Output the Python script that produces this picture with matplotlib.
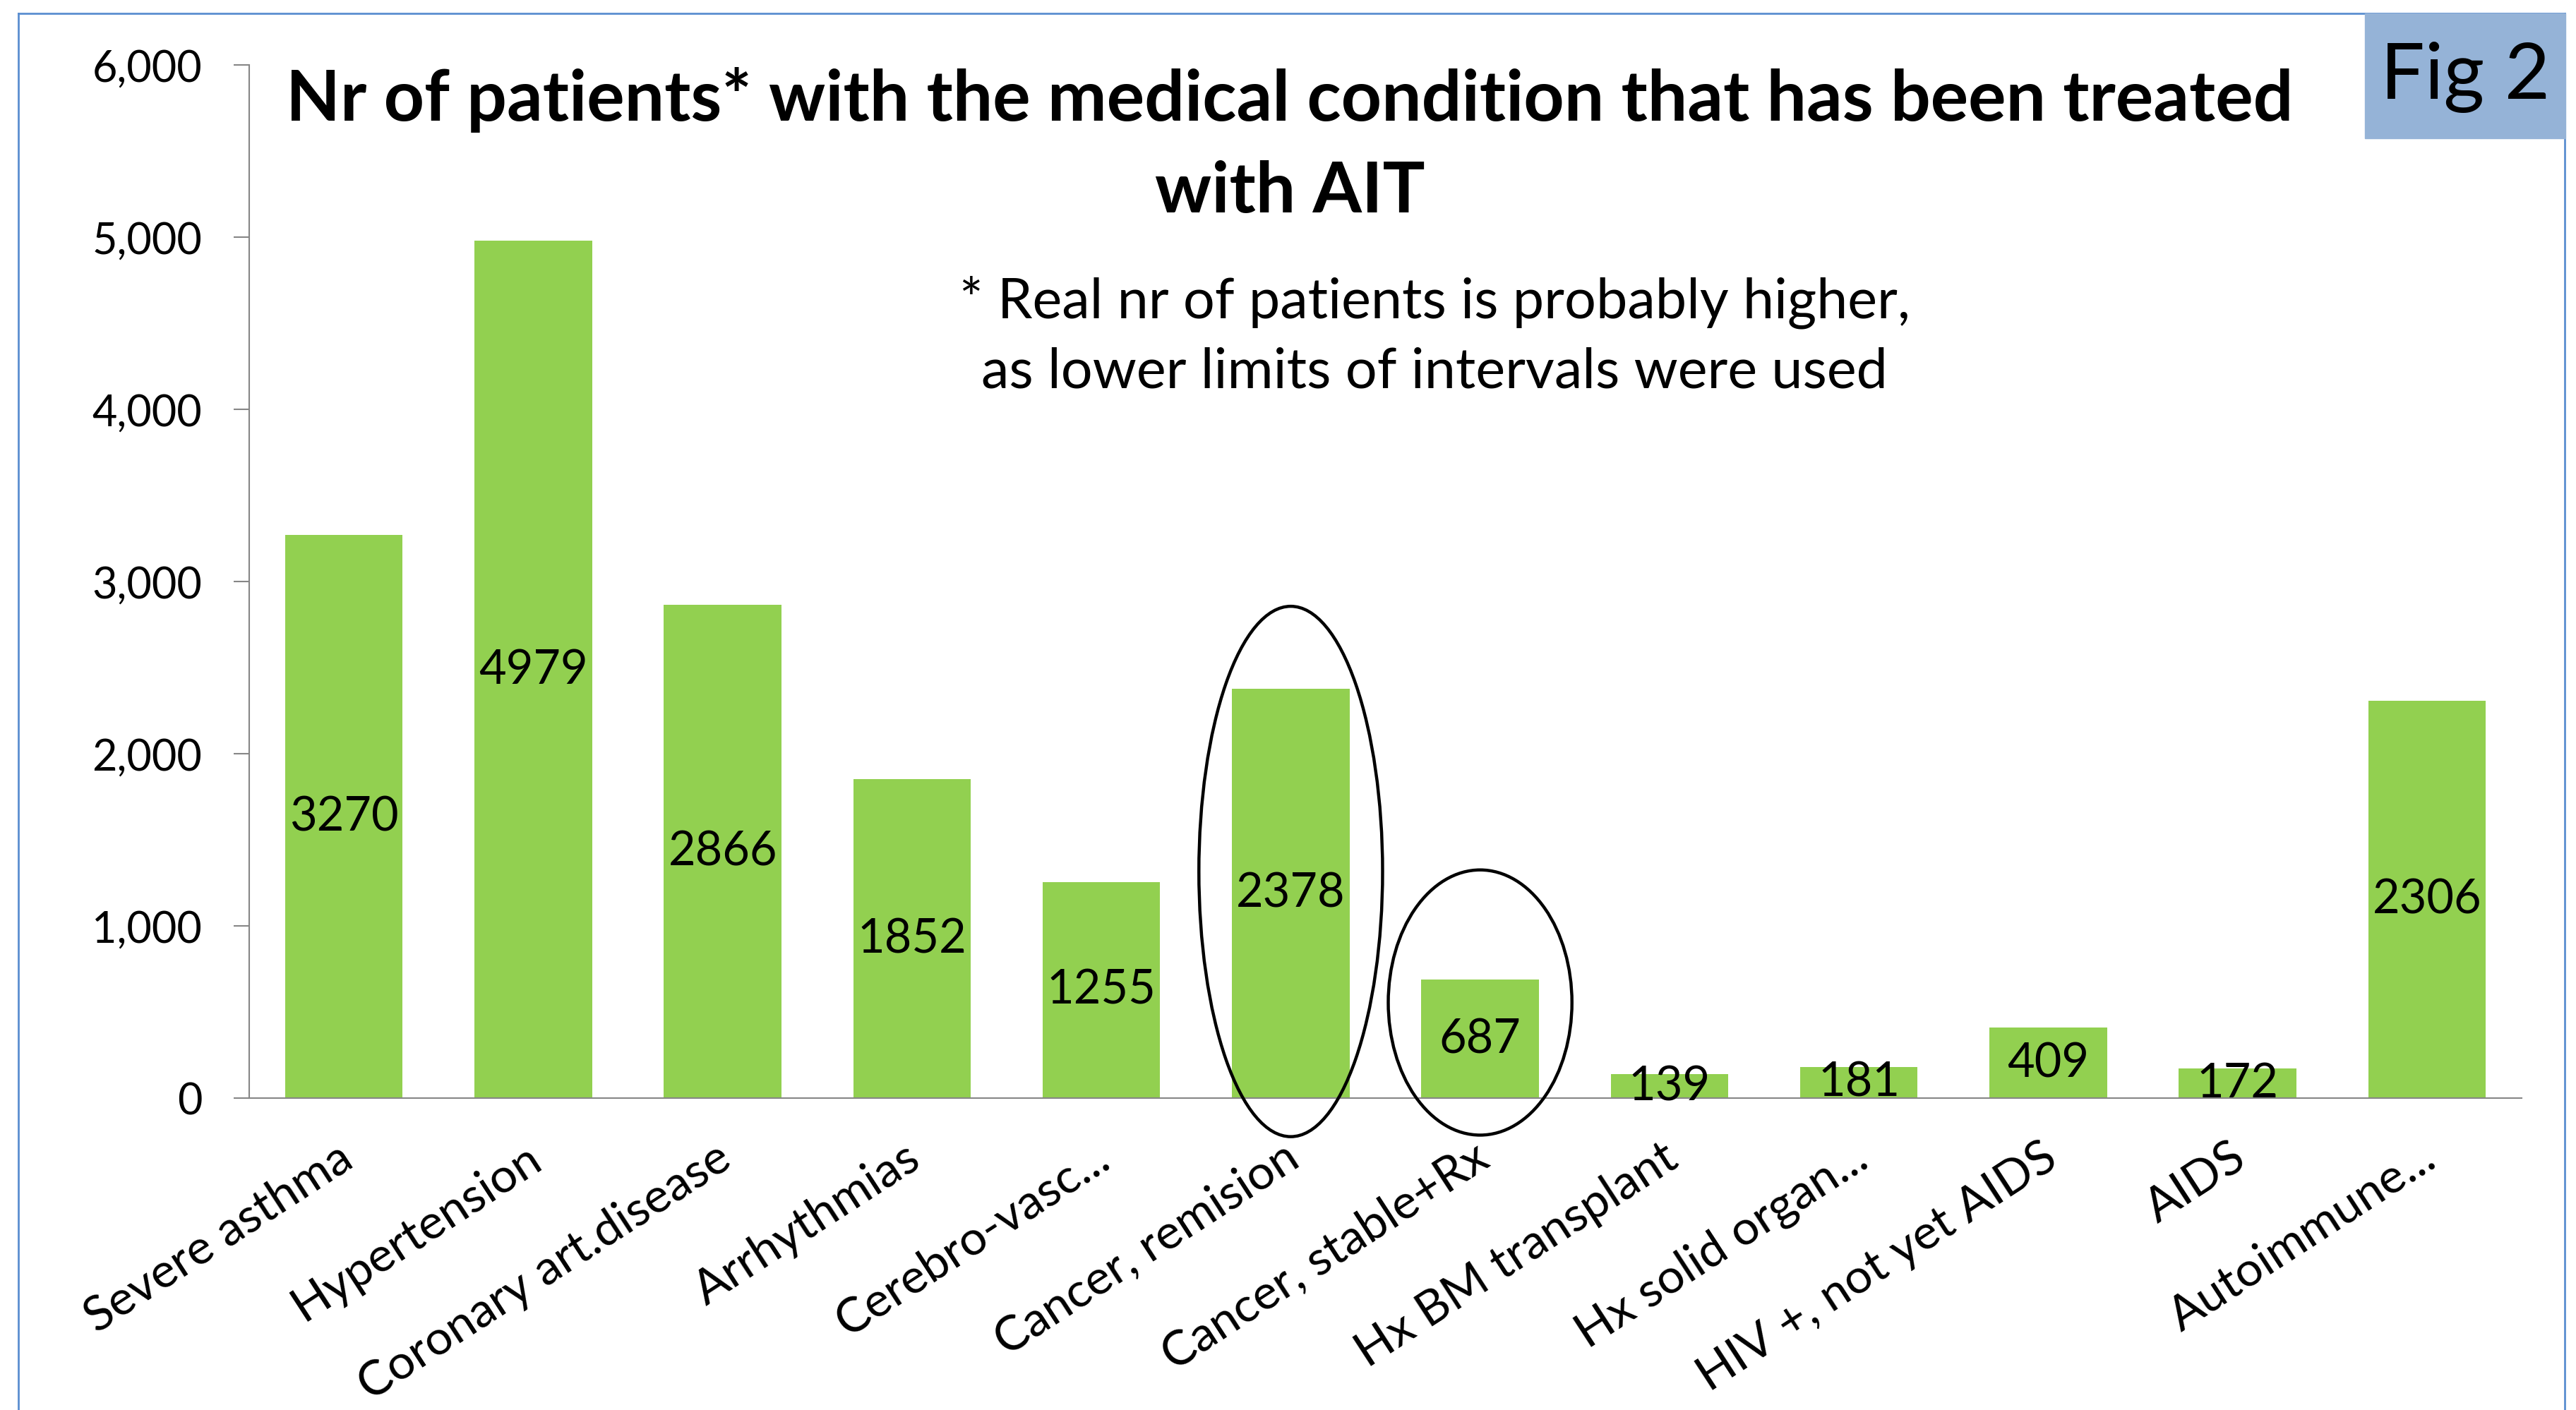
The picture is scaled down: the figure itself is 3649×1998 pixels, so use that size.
import matplotlib.pyplot as plt
from matplotlib.patches import Ellipse, Rectangle
from matplotlib.lines import Line2D
from matplotlib.ticker import FuncFormatter, MultipleLocator
from matplotlib.transforms import ScaledTranslation

plt.rcParams['font.family'] = ['Lato', 'DejaVu Sans']

# data
categories = ['Severe asthma', 'Hypertension', 'Coronary art.disease', 'Arrhythmias',
              'Cerebro-vasc...', 'Cancer, remision', 'Cancer, stable+Rx',
              'Hx BM transplant', 'Hx solid organ...', 'HIV +, not yet AIDS',
              'AIDS', 'Autoimmune...']
patients = [3270, 4979, 2866, 1852, 1255, 2378, 687, 139, 181, 409, 172, 2306]
circled = [5, 6]  # cancer categories highlighted with ellipses

W, H = 3649, 1999
fig = plt.figure(figsize=(W / 100, H / 100), dpi=100)
ax = fig.add_axes([353 / W, 1 - 1557 / H, (3572 - 353) / W, (1557 - 93) / H])

x = range(len(categories))
ax.bar(x, patients, width=0.62, color='#92D050')
for i, v in enumerate(patients):
    ax.text(i, v / 2, str(v), ha='center', va='center', fontsize=48)

# ellipses around the two cancer bars
ax.add_patch(Ellipse((circled[0], 1316), 0.97, 3080, fill=False, lw=3.2,
                     ec='black', clip_on=False, zorder=5))
ax.add_patch(Ellipse((circled[1], 555), 0.97, 1540, fill=False, lw=3.2,
                     ec='black', clip_on=False, zorder=5))

ax.set_xlim(-0.5, len(categories) - 0.5)
ax.set_ylim(0, 6000)
ax.yaxis.set_major_locator(MultipleLocator(1000))
ax.yaxis.set_major_formatter(FuncFormatter(lambda v, p: f'{int(v):,}'))
ax.set_xticks(list(x))
ax.set_xticklabels([])

# category labels, rotated like the Excel axis
lbl_tr = ax.get_xaxis_transform() + ScaledTranslation(-0.11, -0.52, fig.dpi_scale_trans)
for i, c in enumerate(categories):
    ax.text(i, 0, c, transform=lbl_tr, rotation=33, ha='right', va='top',
            rotation_mode='anchor', fontsize=49, clip_on=False)

for s in ['top', 'right']:
    ax.spines[s].set_visible(False)
for s in ['left', 'bottom']:
    ax.spines[s].set_color('#868686')
    ax.spines[s].set_linewidth(1.5)
ax.tick_params(axis='y', length=16, width=1.5, color='#868686', labelsize=44, pad=32)
ax.tick_params(axis='x', length=0)

# titles and note
fig.text(1827 / W, 1 - 142 / H, 'Nr of patients* with the medical condition that has been treated',
         ha='center', va='center', fontsize=72, fontweight='bold')
fig.text(1827 / W, 1 - 272 / H, 'with AIT', ha='center', va='center',
         fontsize=72, fontweight='bold')
fig.text(2032 / W, 1 - 428 / H, '* Real nr of patients is probably higher,',
         ha='center', va='center', fontsize=57)
fig.text(2032 / W, 1 - 528 / H, 'as lower limits of intervals were used',
         ha='center', va='center', fontsize=57)

# outer chart border
border = '#5B8ED0'
fig.add_artist(Line2D([26 / W, 26 / W], [0, 1 - 20 / H], color=border, lw=2))
fig.add_artist(Line2D([26 / W, 3633 / W], [1 - 20 / H, 1 - 20 / H], color=border, lw=2))
fig.add_artist(Line2D([3633 / W, 3633 / W], [0, 1 - 20 / H], color=border, lw=2))

# "Fig 2" box
fig.add_artist(Rectangle((3350 / W, 1 - 197 / H), 284 / W, 177 / H,
                         transform=fig.transFigure, color='#95B3D7', zorder=3))
fig.text(3492 / W, 1 - 110 / H, 'Fig 2', ha='center', va='center', fontsize=80, zorder=4)

fig.savefig('out.png', dpi=100)
